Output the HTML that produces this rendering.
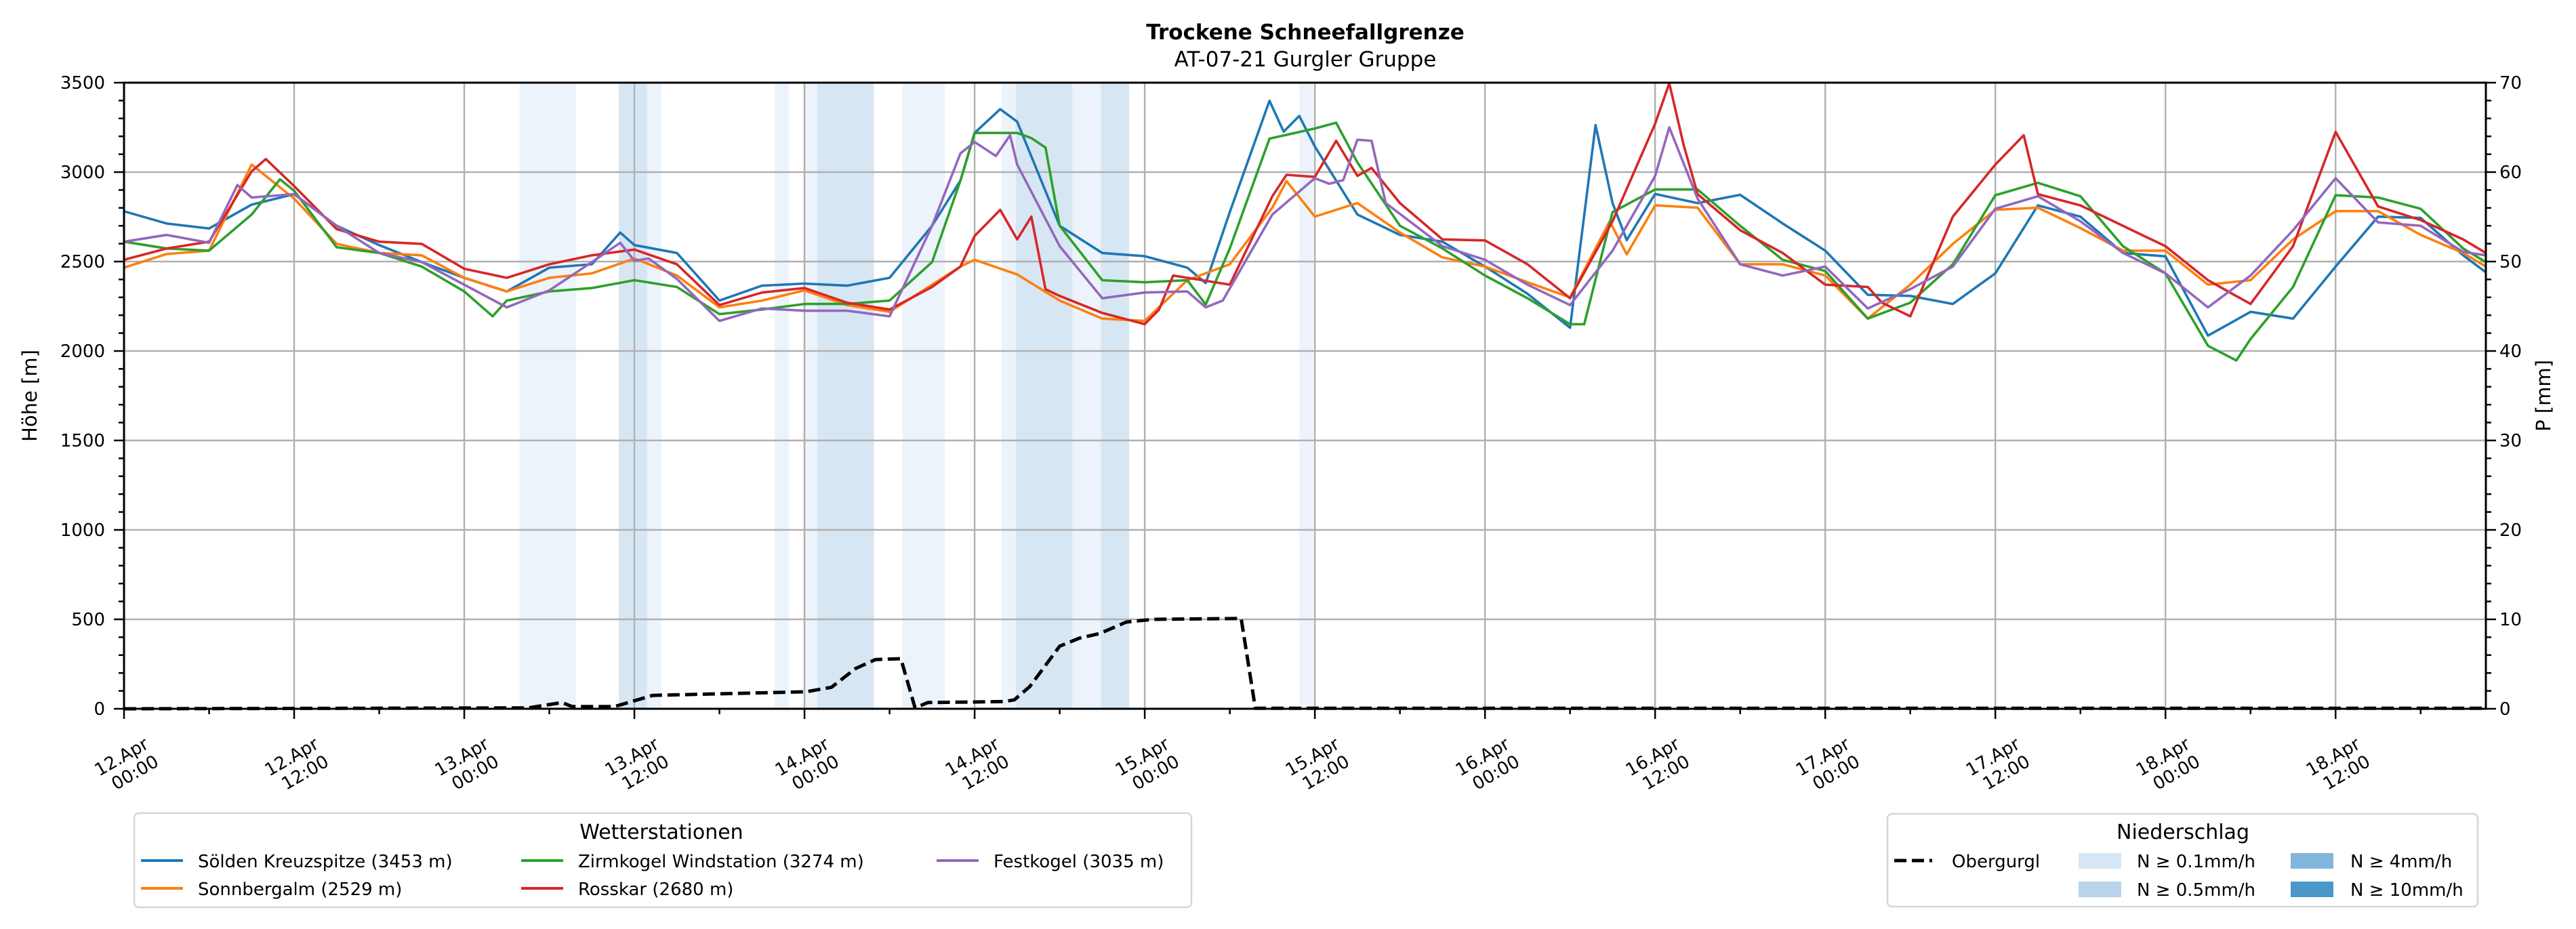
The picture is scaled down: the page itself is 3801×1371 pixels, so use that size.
<!DOCTYPE html>
<html><head><meta charset="utf-8"><style>
html,body{margin:0;padding:0;background:#fff;}
svg{display:block;font-family:"DejaVu Sans","Liberation Sans",sans-serif;}
</style></head><body>
<svg id="chart" xmlns="http://www.w3.org/2000/svg" width="3801" height="1371" viewBox="0 0 3801 1371">
<rect x="0" y="0" width="3801" height="1371" fill="#fff"/>
<text x="1926" y="58" font-size="31" font-weight="bold" text-anchor="middle">Trockene Schneefallgrenze</text>
<text x="1926" y="98" font-size="31" text-anchor="middle">AT-07-21 Gurgler Gruppe</text>
<text transform="translate(54,584) rotate(-90)" font-size="29" text-anchor="middle">Höhe [m]</text>
<text transform="translate(3763,584) rotate(-90)" font-size="29" text-anchor="middle">P [mm]</text>
<g id="bands"></g>
<g id="grid"></g>
<g id="series"></g>
<g id="axes"></g>
<g id="legend1">
  <rect x="198" y="1200" width="1560" height="139" rx="7" fill="#fff" stroke="#d6d6d6" stroke-width="2.5"/>
  <text x="976" y="1238" font-size="30" text-anchor="middle">Wetterstationen</text>
</g>
<g id="legend2">
  <rect x="2785" y="1201" width="871" height="137" rx="7" fill="#fff" stroke="#d6d6d6" stroke-width="2.5"/>
  <text x="3221" y="1238" font-size="30" text-anchor="middle">Niederschlag</text>
  <line x1="2795" y1="1270" x2="2851" y2="1270" stroke="#000" stroke-width="5" stroke-dasharray="18,8"/>
  <text x="2880" y="1280" font-size="26">Obergurgl</text>
  <rect x="3067" y="1259" width="63" height="23" fill="#d6e6f4"/>
  <text x="3153" y="1280" font-size="26">N ≥ 0.1mm/h</text>
  <rect x="3067" y="1301" width="63" height="23" fill="#b9d4ea"/>
  <text x="3153" y="1322" font-size="26">N ≥ 0.5mm/h</text>
  <rect x="3380" y="1259" width="63" height="23" fill="#82b5db"/>
  <text x="3468" y="1280" font-size="26">N ≥ 4mm/h</text>
  <rect x="3380" y="1301" width="63" height="23" fill="#4a97c9"/>
  <text x="3468" y="1322" font-size="26">N ≥ 10mm/h</text>
</g>
</svg>
<script>
// ---- data ----
const soeldenHours = [0,3,6,9,12,15,18,21,24,27,30,33,35,36,39,42,45,48,51,54,57,59,60,61.8,63,66,69,72,75,76.3,78,80.8,81.8,82.9,84,87,90,93,96,99,102,103.8,105,106,108,111,114,117,120,123,126,129,132,135,138,141,144,147,150,153,156,159,162,165,166.6];
const soeldenValues = [2781,2713,2685,2818,2877,2700,2592,2497,2409,2333,2466,2485,2662,2592,2548,2282,2365,2377,2365,2409,2700,2953,3219,3352,3282,2700,2548,2530,2466,2380,2776,3399,3226,3314,3143,2763,2649,2611,2472,2320,2130,3263,2827,2620,2878,2827,2873,2713,2561,2314,2308,2263,2434,2814,2751,2548,2529,2086,2219,2181,2472,2751,2744,2535,2440];
const sonnHours = [0,3,6,9,12,15,18,21,24,27,30,33,36,39,42,45,48,51,54,57,59,60,63,66,69,72,75,78,81,82,84,87,90,93,96,99,102,104.8,106,108,111,114,117,120,123,126,129,132,135,138,141,144,147,150,153,156,159,162,165,166.6];
const sonnValues = [2466,2542,2561,3042,2852,2599,2548,2535,2409,2333,2409,2434,2517,2422,2244,2282,2339,2257,2219,2371,2472,2510,2428,2282,2181,2168,2396,2485,2801,2950,2751,2827,2662,2523,2472,2384,2300,2725,2540,2814,2801,2485,2485,2422,2181,2371,2599,2789,2801,2687,2561,2561,2371,2396,2624,2782,2782,2649,2548,2472];
const zirmHours = [0,3,6,9,11,12,15,18,21,24,26,27,30,33,36,39,42,45,48,51,54,57,59,60,63,64,65,66,69,72,75,76.3,78,80.8,84,85.5,87,90,93,96,99,102,103,105,108,111,114,117,120,123,126,129,132,135,138,141,144,147,149,150,153,156,159,162,165,166.6];
const zirmValues = [2611,2573,2561,2763,2960,2896,2580,2548,2472,2333,2194,2282,2333,2352,2396,2358,2206,2232,2263,2263,2282,2497,2953,3219,3219,3190,3137,2700,2396,2384,2396,2260,2573,3187,3244,3276,3054,2700,2573,2422,2295,2150,2150,2776,2903,2903,2700,2510,2447,2181,2270,2485,2871,2940,2865,2586,2434,2029,1947,2067,2358,2871,2858,2795,2573,2497];
const rossHours = [0,3,6,9,10,12,15,18,21,24,27,30,33,36,39,42,45,48,51,54,57,59,60,61.8,63,64,65,66,69,72,73,74,78,81,82,84,85.5,87,88,90,93,96,99,102,105,108,109,110,111,114,117,120,123,124,126,129,132,134,135,138,141,144,147,150,153,156,159,162,165,166.6];
const rossValues = [2510,2573,2611,3004,3073,2922,2681,2611,2599,2460,2409,2485,2535,2567,2485,2257,2327,2352,2270,2232,2358,2472,2643,2789,2624,2751,2346,2308,2213,2150,2230,2422,2371,2865,2985,2973,3175,2979,3023,2827,2624,2618,2485,2295,2725,3270,3497,3156,2877,2675,2548,2371,2358,2270,2194,2751,3042,3206,2877,2814,2700,2586,2396,2263,2586,3225,2808,2732,2624,2548];
const festHours = [0,3,6,8,9,12,15,18,21,24,27,30,33,35,36,37,39,42,45,48,51,54,57,59,60,61.5,62.5,63,66,69,72,75,76.3,77.5,81,84,85,86,87,88,89,93,96,99,102,105,108,109,111,114,117,120,123,126,129,132,135,138,141,144,147,150,153,156,159,162,165,166.6];
const festValues = [2611,2649,2605,2928,2858,2877,2700,2548,2497,2371,2244,2339,2497,2605,2504,2517,2403,2168,2238,2225,2225,2194,2700,3105,3168,3090,3206,3042,2586,2295,2327,2333,2244,2282,2763,2966,2935,2955,3181,3175,2827,2586,2510,2371,2257,2561,2978,3250,2852,2485,2422,2472,2238,2346,2472,2795,2865,2725,2548,2434,2244,2422,2675,2966,2719,2700,2554,2535];
const precipHours = [0,28.5,30.9,31.6,34.6,37.3,48.1,49.9,51.6,53,54.8,55.8,56.7,62.1,62.8,63.9,66,67.4,68.8,70.7,72.6,78.8,79.8,166.6];
const precipValues = [0,0.1,0.7,0.25,0.25,1.5,1.9,2.4,4.5,5.5,5.6,0.1,0.7,0.8,1.0,2.5,7.0,7.9,8.4,9.7,10.0,10.1,0.05,0.05];
const bandStart = [27.9,34.9,36.9,45.9,47.9,48.9,54.9,61.9,62.9,66.9,68.9,82.9];
const bandEnd = [31.9,36.9,37.9,46.9,48.9,52.9,57.9,62.9,66.9,68.9,70.9,83.9];
const bandLevel = [0.1,0.5,0.1,0.1,0.1,0.5,0.1,0.1,0.5,0.1,0.5,0.1];
const yTicks = [0,500,1000,1500,2000,2500,3000,3500];
const y2Ticks = [0,10,20,30,40,50,60,70];
const xTickHours = [0,12,24,36,48,60,72,84,96,108,120,132,144,156];
const xTickDays = ['12.Apr','12.Apr','13.Apr','13.Apr','14.Apr','14.Apr','15.Apr','15.Apr','16.Apr','16.Apr','17.Apr','17.Apr','18.Apr','18.Apr'];
const xTickTimes = ['00:00','12:00','00:00','12:00','00:00','12:00','00:00','12:00','00:00','12:00','00:00','12:00','00:00','12:00'];

// ---- scales ----
const L=183,R=3668,T=122,B=1046,HMAX=166.6;
const xs=h=>L+h*(R-L)/HMAX;
const ys=v=>B-v*(B-T)/3500;
const yp=m=>B-m*(B-T)/70;
const NS='http://www.w3.org/2000/svg';
function mk(tag,parent){const e=document.createElementNS(NS,tag);parent.appendChild(e);return e;}
const bands=document.getElementById('bands'),grid=document.getElementById('grid'),series=document.getElementById('series'),axes=document.getElementById('axes'),legend1=document.getElementById('legend1');

// bands
for(let i=0;i<bandStart.length;i++){
  const r=mk('rect',bands);
  
  
  r.setAttribute('x',xs(bandStart[i]));r.setAttribute('y',T);
  r.setAttribute('width',xs(bandEnd[i])-xs(bandStart[i]));r.setAttribute('height',B-T);
  r.setAttribute('fill',bandLevel[i]>=0.5?'#d7e6f3':'#edf3fa');
}
// grid
xTickHours.forEach(h=>{
  const l=mk('line',grid);
  
  
  l.setAttribute('x1',xs(h));l.setAttribute('x2',xs(h));l.setAttribute('y1',T);l.setAttribute('y2',B);
  l.setAttribute('stroke','#b0b0b0');l.setAttribute('stroke-width','2.4');
});
yTicks.forEach(v=>{
  const l=mk('line',grid);
  
  
  l.setAttribute('x1',L);l.setAttribute('x2',R);l.setAttribute('y1',ys(v));l.setAttribute('y2',ys(v));
  l.setAttribute('stroke','#b0b0b0');l.setAttribute('stroke-width','2.4');
});
// series
function drawLine(hours,vals,color,name,yf,dash){
  const p=mk('polyline',series);
  
  
  p.setAttribute('points',hours.map((h,i)=>xs(h).toFixed(1)+','+yf(vals[i]).toFixed(1)).join(' '));
  p.setAttribute('fill','none');p.setAttribute('stroke',color);
  p.setAttribute('stroke-width',dash?'5':'3.6');p.setAttribute('stroke-linejoin','round');
  if(dash)p.setAttribute('stroke-dasharray','18,8');
}
drawLine(soeldenHours,soeldenValues,'#1f77b4','line-soelden',ys);
drawLine(sonnHours,sonnValues,'#ff7f0e','line-sonnbergalm',ys);
drawLine(zirmHours,zirmValues,'#2ca02c','line-zirmkogel',ys);
drawLine(rossHours,rossValues,'#d62728','line-rosskar',ys);
drawLine(festHours,festValues,'#9467bd','line-festkogel',ys);
drawLine(precipHours,precipValues,'#000','line-obergurgl-precip',yp,true);

// axes frame
const fr=mk('rect',axes);


fr.setAttribute('x',L);fr.setAttribute('y',T);fr.setAttribute('width',R-L);fr.setAttribute('height',B-T);
fr.setAttribute('fill','none');fr.setAttribute('stroke','#000');fr.setAttribute('stroke-width','3');
function tick(x1,y1,x2,y2,name){
  const l=mk('line',axes);
  
  
  l.setAttribute('x1',x1);l.setAttribute('y1',y1);l.setAttribute('x2',x2);l.setAttribute('y2',y2);
  l.setAttribute('stroke','#000');l.setAttribute('stroke-width','2.5');
}
for(let v=0;v<=3500;v+=100){const maj=v%500===0;tick(L-(maj?15:8),ys(v),L,ys(v),maj?'y-major-tick':'y-minor-tick');}
for(let m=0;m<=70;m+=2){const maj=m%10===0;tick(R,yp(m),R+(maj?15:8),yp(m),maj?'y2-major-tick':'y2-minor-tick');}
for(let h=0;h<=HMAX;h+=6){const maj=h%12===0;tick(xs(h),B,xs(h),B+(maj?15:8),maj?'x-major-tick':'x-minor-tick');}
yTicks.forEach(v=>{
  const t=mk('text',axes);
  
  
  t.setAttribute('x',L-28);t.setAttribute('y',ys(v)+9);t.setAttribute('font-size','26');t.setAttribute('text-anchor','end');
  t.textContent=v;
});
y2Ticks.forEach(m=>{
  const t=mk('text',axes);
  
  
  t.setAttribute('x',R+20);t.setAttribute('y',yp(m)+9);t.setAttribute('font-size','26');
  t.textContent=m;
});
xTickHours.forEach((h,i)=>{
  const g=mk('g',axes);
  
  
  g.setAttribute('transform','translate('+(xs(h)+38)+',1103) rotate(-30)');
  const a=mk('text',g);
  
  
  a.setAttribute('font-size','26');a.setAttribute('text-anchor','end');a.textContent=xTickDays[i];
  const b=mk('text',g);
  
  
  b.setAttribute('y','30');b.setAttribute('font-size','26');b.setAttribute('text-anchor','end');b.textContent=xTickTimes[i];
});
// stations legend entries
const legNames=['Sölden Kreuzspitze (3453 m)','Sonnbergalm (2529 m)','Zirmkogel Windstation (3274 m)','Rosskar (2680 m)','Festkogel (3035 m)'];
const legColors=['#1f77b4','#ff7f0e','#2ca02c','#d62728','#9467bd'];
const legX=[208,208,769,769,1382],legY=[1270,1311,1270,1311,1270];
legNames.forEach((n,i)=>{
  const l=mk('line',legend1);
  
  
  l.setAttribute('x1',legX[i]);l.setAttribute('x2',legX[i]+62);l.setAttribute('y1',legY[i]);l.setAttribute('y2',legY[i]);
  l.setAttribute('stroke',legColors[i]);l.setAttribute('stroke-width','4');
  const t=mk('text',legend1);
  
  
  t.setAttribute('x',legX[i]+84);t.setAttribute('y',legY[i]+10);t.setAttribute('font-size','26');
  t.textContent=n;
});
</script>
</body></html>
